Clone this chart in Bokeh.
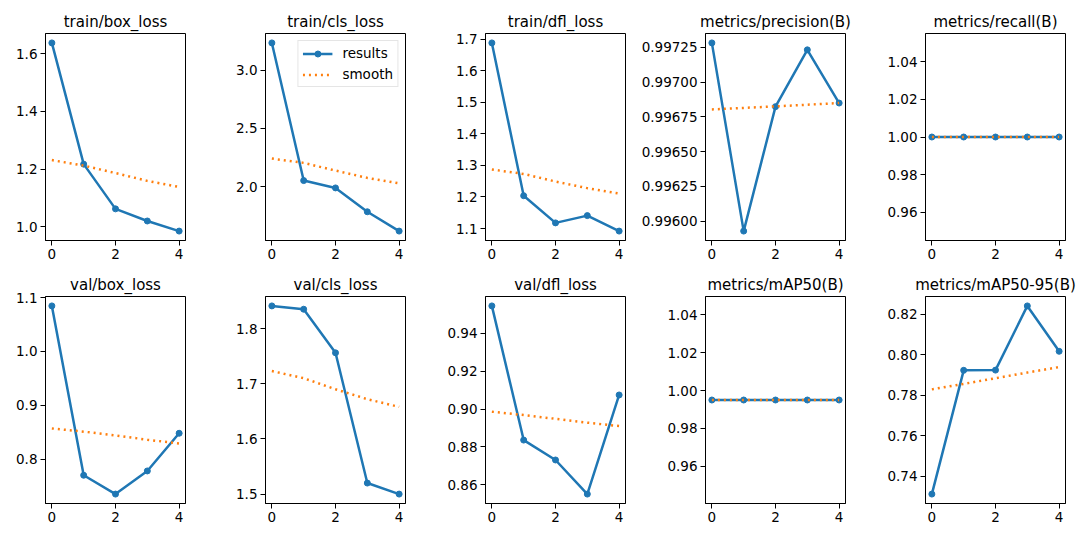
from bokeh.plotting import figure
from bokeh.layouts import column, row
from bokeh.models import Range1d, FixedTicker, PrintfTickFormatter
from bokeh.embed import file_html
from bokeh.resources import INLINE

# ---------------- data ----------------
epochs = [0, 1, 2, 3, 4]

titles = ["train/box_loss", "train/cls_loss", "train/dfl_loss",
          "metrics/precision(B)", "metrics/recall(B)",
          "val/box_loss", "val/cls_loss", "val/dfl_loss",
          "metrics/mAP50(B)", "metrics/mAP50-95(B)"]

train_box_loss = [1.637, 1.217, 1.062, 1.020, 0.985]
train_box_loss_smooth = [1.231, 1.212, 1.186, 1.159, 1.138]

train_cls_loss = [3.235, 2.052, 1.989, 1.784, 1.618]
train_cls_loss_smooth = [2.241, 2.204, 2.138, 2.075, 2.028]

train_dfl_loss = [1.688, 1.204, 1.118, 1.141, 1.092]
train_dfl_loss_smooth = [1.287, 1.273, 1.249, 1.228, 1.211]

precision = [0.997283, 0.995928, 0.996824, 0.997233, 0.996850]
precision_smooth = [0.996804, 0.996815, 0.996826, 0.996838, 0.996850]

recall = [1.0, 1.0, 1.0, 1.0, 1.0]
recall_smooth = [1.0, 1.0, 1.0, 1.0, 1.0]

val_box_loss = [1.0846, 0.770, 0.735, 0.778, 0.848]
val_box_loss_smooth = [0.857, 0.851, 0.844, 0.836, 0.829]

val_cls_loss = [1.841, 1.835, 1.756, 1.520, 1.500]
val_cls_loss_smooth = [1.723, 1.710, 1.690, 1.672, 1.658]

val_dfl_loss = [0.9544, 0.8836, 0.8731, 0.8551, 0.9074]
val_dfl_loss_smooth = [0.8986, 0.8968, 0.8948, 0.8928, 0.8910]

map50 = [0.995, 0.995, 0.995, 0.995, 0.995]
map50_smooth = [0.995, 0.995, 0.995, 0.995, 0.995]

map50_95 = [0.7311, 0.7922, 0.7923, 0.8240, 0.8016]
map50_95_smooth = [0.7828, 0.7855, 0.7883, 0.7911, 0.7938]

x_ticks = [0, 2, 4]
y_ticks = [
    [1.0, 1.2, 1.4, 1.6],
    [2.0, 2.5, 3.0],
    [1.1, 1.2, 1.3, 1.4, 1.5, 1.6, 1.7],
    [0.996, 0.99625, 0.9965, 0.99675, 0.997, 0.99725],
    [0.96, 0.98, 1.00, 1.02, 1.04],
    [0.8, 0.9, 1.0, 1.1],
    [1.5, 1.6, 1.7, 1.8],
    [0.86, 0.88, 0.90, 0.92, 0.94],
    [0.96, 0.98, 1.00, 1.02, 1.04],
    [0.74, 0.76, 0.78, 0.80, 0.82],
]
y_formats = ["%.1f", "%.1f", "%.1f", "%.5f", "%.2f",
             "%.1f", "%.1f", "%.2f", "%.2f", "%.2f"]

series = [train_box_loss, train_cls_loss, train_dfl_loss, precision, recall,
          val_box_loss, val_cls_loss, val_dfl_loss, map50, map50_95]
smooths = [train_box_loss_smooth, train_cls_loss_smooth, train_dfl_loss_smooth,
           precision_smooth, recall_smooth, val_box_loss_smooth,
           val_cls_loss_smooth, val_dfl_loss_smooth, map50_smooth, map50_95_smooth]

# ---------------- layout / style ----------------
BLUE = "#1f77b4"
ORANGE = "#ff7f0e"
FONT = "DejaVu Sans"
TICK_FS = "13.5px"
col_w = [220, 220, 195, 225, 220]
left_b = [45, 45, 45, 70, 65]
right_b = [35, 35, 10, 15, 15]
row_top = [33, 26]
row_bot = [30, 37]


def yrange(a, b):
    lo = min(min(a), min(b))
    hi = max(max(a), max(b))
    if hi == lo:
        lo -= 0.05 * abs(lo)
        hi += 0.05 * abs(hi)
    pad = 0.05 * (hi - lo)
    return Range1d(lo - pad, hi + pad)


figs = []
for i in range(10):
    r, c = divmod(i, 5)
    p = figure(width=col_w[c], height=270, output_backend="svg",
               toolbar_location=None, tools="",
               x_range=Range1d(-0.2, 4.2),
               y_range=yrange(series[i], smooths[i]),
               min_border_left=left_b[c], min_border_right=right_b[c],
               min_border_top=row_top[r], min_border_bottom=row_bot[r])
    p.title.text = titles[i]
    p.title.text_font = FONT
    p.title.text_font_size = "15px"
    p.title.text_font_style = "normal"
    p.title.text_color = "black"
    p.title.align = "center"
    p.title.standoff = 6
    p.xgrid.visible = False
    p.ygrid.visible = False
    p.outline_line_color = "black"
    p.outline_line_width = 1
    p.outline_line_alpha = 1
    p.background_fill_color = "white"
    p.border_fill_color = "white"

    p.xaxis.ticker = FixedTicker(ticks=x_ticks)
    p.yaxis.ticker = FixedTicker(ticks=y_ticks[i])
    p.yaxis.formatter = PrintfTickFormatter(format=y_formats[i])
    for ax in (p.xaxis, p.yaxis):
        ax.major_label_text_font = FONT
        ax.major_label_text_font_size = TICK_FS
        ax.major_label_text_color = "black"
        ax.axis_line_color = "black"
        ax.axis_line_width = 1
        ax.major_tick_line_color = "black"
        ax.major_tick_line_width = 1
        ax.major_tick_out = 5
        ax.major_tick_in = 0
        ax.minor_tick_out = 0
        ax.minor_tick_in = 0
        ax.major_label_standoff = 3

    if i == 1:
        p.line(epochs, series[i], line_color=BLUE, line_width=2.5, legend_label="results")
        p.scatter(epochs, series[i], size=6, fill_color=BLUE, line_color=BLUE, legend_label="results")
        p.line(epochs, smooths[i], line_color=ORANGE, line_width=2.5, line_dash="2 4", legend_label="smooth")
        lg = p.legend[0]
        lg.location = "top_right"
        lg.margin = 7
        lg.padding = 4
        lg.spacing = 5
        lg.glyph_width = 30
        lg.glyph_height = 15
        lg.label_height = 15
        lg.label_standoff = 10
        lg.label_text_font = FONT
        lg.label_text_font_size = "13.5px"
        lg.label_text_color = "black"
        lg.border_line_color = "#cccccc"
        lg.border_line_width = 1
        lg.background_fill_alpha = 0.8
    else:
        p.line(epochs, series[i], line_color=BLUE, line_width=2.5)
        p.scatter(epochs, series[i], size=6, fill_color=BLUE, line_color=BLUE)
        p.line(epochs, smooths[i], line_color=ORANGE, line_width=2.5, line_dash="2 4")
    figs.append(p)

layout = column(row(*figs[:5], spacing=0), row(*figs[5:], spacing=0), spacing=0)

open("out.html", "w").write(file_html(layout, INLINE))
